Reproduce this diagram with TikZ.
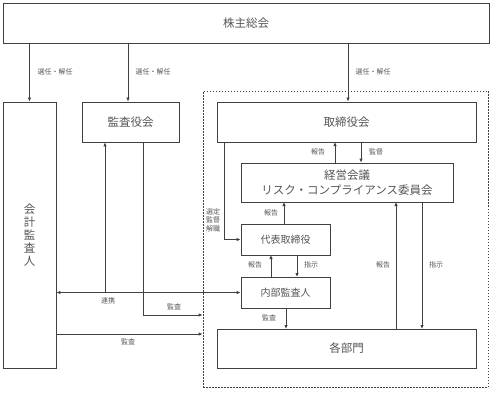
\documentclass[tikz,border=0pt]{standalone}
\usepackage{fontspec}
\setmainfont{Noto Sans CJK JP}
\usetikzlibrary{arrows.meta}
\definecolor{ln}{HTML}{404040}
\definecolor{tx}{HTML}{555555}
\tikzset{
  box/.style={draw=ln, line width=0.8pt, rectangle, inner sep=0pt, text=tx, font=\fontsize{11.5}{13}\selectfont, align=center},
  smallbox/.style={box, font=\fontsize{10}{12}\selectfont},
  arr/.style={draw=ln, line width=0.8pt, -{Latex[length=4pt,width=3.5pt]}},
  dbl/.style={draw=ln, line width=0.8pt, {Latex[length=4pt,width=3.5pt]}-{Latex[length=4pt,width=3.5pt]}},
  plain/.style={draw=ln, line width=0.8pt},
  lbl/.style={text=tx, font=\fontsize{7}{8}\selectfont, inner sep=0pt, align=center},
}
\begin{document}
\begin{tikzpicture}[x=1pt,y=-1pt]
\useasboundingbox (0,0) rectangle (492,393);
% dashed group
\node[draw=ln, dashed, dash pattern=on 1.5pt off 1.5pt, line width=0.8pt, minimum width=285pt, minimum height=296pt, inner sep=0pt] (grp) at (345.5,239) {};
% boxes
\node[box, minimum width=486pt, minimum height=40pt] (kabu) at (246,23) {株主総会};
\node[box, minimum width=53pt, minimum height=266pt] (kaikei) at (29.5,235) {会\\計\\監\\査\\人};
\node[box, minimum width=97pt, minimum height=40pt] (kansa) at (130.5,122) {監査役会};
\node[box, minimum width=259pt, minimum height=40pt] (tori) at (346.5,122) {取締役会};
\node[box, minimum width=212pt, minimum height=39pt, font=\fontsize{11.5}{15}\selectfont] (keiei) at (347,182.5) {経営会議\\リスク・コンプライアンス委員会};
\node[smallbox, minimum width=89pt, minimum height=31pt] (daihyo) at (285.5,239.5) {代表取締役};
\node[smallbox, minimum width=89pt, minimum height=31pt] (naibu) at (285.5,292.5) {内部監査人};
\node[box, minimum width=259pt, minimum height=39pt] (kakubu) at (346.5,348.5) {各部門};
% from shareholders
\draw[arr] (kaikei.north |- kabu.south) -- (kaikei.north);
\draw[arr] ([xshift=-2.5pt]kansa.north |- kabu.south) -- ([xshift=-2.5pt]kansa.north);
\draw[arr] ([xshift=1.5pt]tori.north |- kabu.south) -- ([xshift=1.5pt]tori.north);
\node[lbl] (l1) at (55,72) {選任・解任};
\node[lbl] (l2) at (153,72) {選任・解任};
\node[lbl] (l3) at (373,72) {選任・解任};
% board <-> management
\coordinate (tb1) at (335,142);
\coordinate (tb2) at (361,142);
\draw[arr] (tb1 |- keiei.north) -- (tb1);
\draw[arr] (tb2) -- (tb2 |- keiei.north);
\node[lbl] (l4) at (318,152) {報告};
\node[lbl] (l5) at (376,152) {監督};
% board -> representative director
\coordinate (tl) at (224,142);
\draw[arr] (tl) |- (daihyo.west);
\node[lbl, font=\fontsize{7}{8.5}\selectfont] (l6) at (213,220) {選定\\監督\\解職};
% representative -> management
\draw[arr] (284,224) -- (284,202);
\node[lbl] (l7) at (271,213) {報告};
% representative <-> internal audit
\draw[arr] (271,277) -- (271,255);
\draw[arr] (297,255) -- (297,277);
\node[lbl] (l8) at (255,265) {報告};
\node[lbl] (l9) at (311,265) {指示};
% internal audit -> departments
\draw[arr] (286,308) -- (286,329);
\node[lbl] (l10) at (269,318) {監査};
% departments <-> management
\draw[arr] (396,329) -- (396,202);
\draw[arr] (422,202) -- (422,329);
\node[lbl] (l11) at (383,265) {報告};
\node[lbl] (l12) at (436,265) {指示};
% liaison
\draw[dbl] (kaikei.east |- naibu.west) -- (naibu.west);
\coordinate (lj) at (105,292.5);
\draw[arr] (lj) -- (lj |- kansa.south);
\node[lbl] (l13) at (108,301) {連携};
% audit from kansa
\coordinate (ks) at (143,142);
\draw[arr] (ks) |- (grp.west |- 0,315);
\node[lbl] (l14) at (174,307) {監査};
% audit from accounting auditor
\draw[arr] (kaikei.east |- 0,334) -- (grp.west |- 0,334);
\node[lbl] (l15) at (128,342) {監査};
\end{tikzpicture}
\end{document}
